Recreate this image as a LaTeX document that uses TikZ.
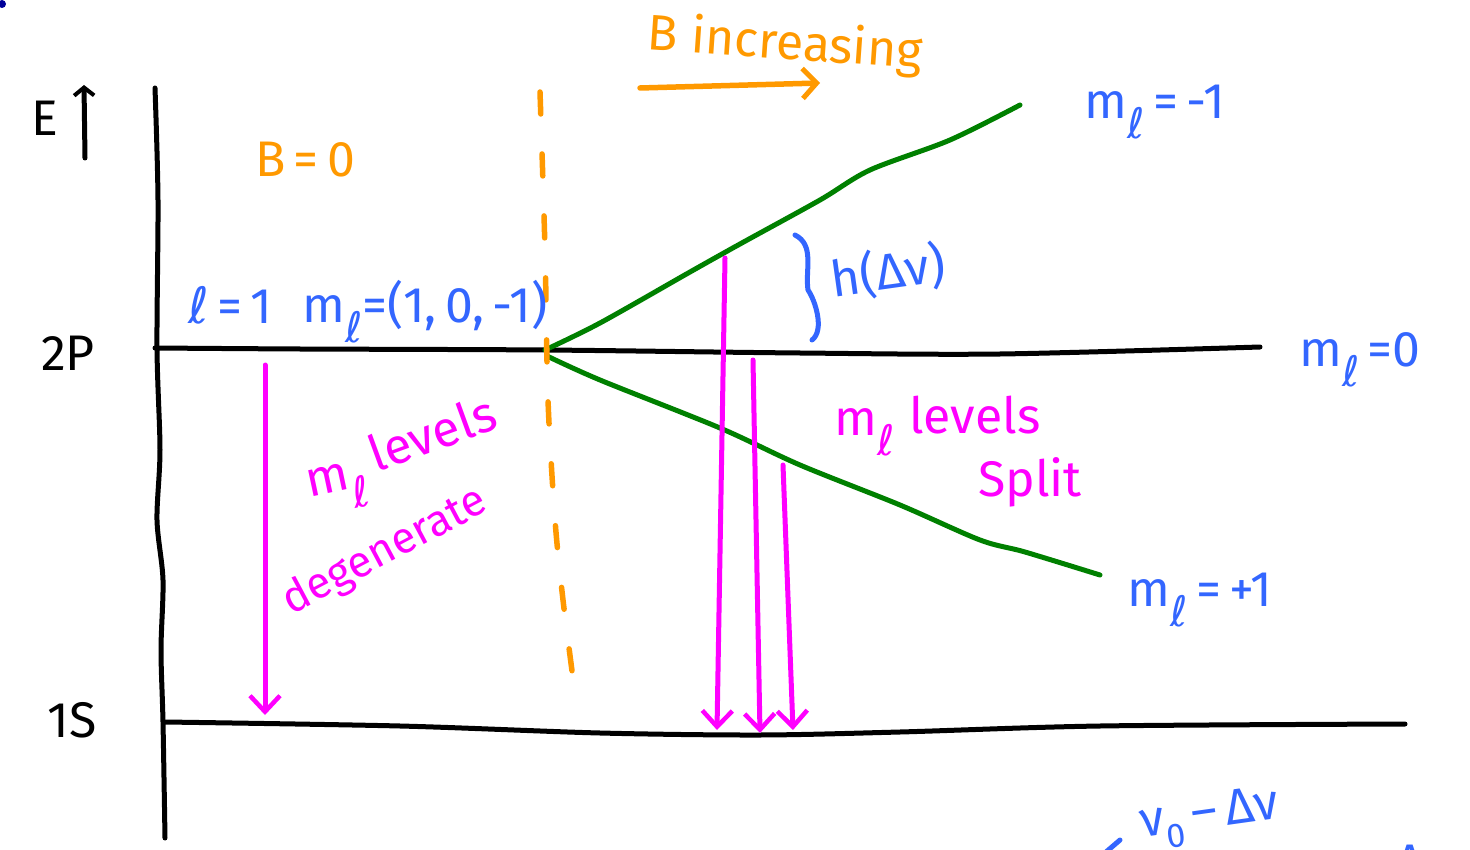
\documentclass[tikz,border=0pt]{standalone}
\usepackage{fontspec}
\setmainfont{Fira Sans}
\newfontfamily\ellfont{DejaVu Sans}
\usetikzlibrary{arrows.meta}
\definecolor{inkblue}{RGB}{51,102,255}
\definecolor{inkorange}{RGB}{255,153,0}
\definecolor{inkgreen}{RGB}{0,128,0}
\definecolor{inkmag}{RGB}{255,0,255}
\newcommand\myell{{\ellfont ℓ}}
\newcommand\msub{m\raisebox{-0.4em}{\fontsize{42}{42}\selectfont\ellfont ℓ}}
\newcommand\nuzero{ν\raisebox{-0.3em}{\fontsize{34}{34}\selectfont 0}}
\tikzset{
  ink/.style={line width=5pt,line cap=round,line join=round},
  blk/.style={ink,black},
  grn/.style={ink,inkgreen},
  mag/.style={ink,inkmag,-{Straight Barb[length=16pt,width=30pt,line width=4.5pt]}},
  org/.style={line width=5.5pt,line cap=round,inkorange},
  lbl/.style={font=\fontsize{50}{56}\selectfont,inner sep=0pt},
  bl/.style={lbl,text=inkblue},
  ol/.style={lbl,text=inkorange},
  ml/.style={lbl,text=inkmag},
  kl/.style={lbl,text=black},
}
\begin{document}
\begin{tikzpicture}[x=1pt,y=-1pt]
\useasboundingbox (0,0) rectangle (1470,850);
\clip (0,0) rectangle (1470,850);
% corner dot
\fill[blue!60!black] (2,4) circle (4);
% axis
\coordinate (axT) at (155,88);
\coordinate (axB) at (165,838);
\draw[blk] plot[smooth] coordinates {(axT) (158,200) (157,348) (160,450) (157,520) (163,580) (161,650) (163,722) (axB)};
% E arrow
\node[kl] (E) at (45,118) {E};
\coordinate (eB) at (85,158);
\coordinate (eT) at (84,85);
\draw[blk,-{Straight Barb[length=8pt,width=20pt,line width=4pt]}] (eB) -- (eT);
\node[kl] (l2p) at (68,353) {2P};
\node[kl] (l1s) at (72,720) {1S};
% 2P line
\coordinate (p0) at (155,348);
\coordinate (p1) at (1260,347);
\draw[blk] plot[smooth] coordinates {(p0) (300,349) (545,350) (800,353) (1000,354) (p1)};
% 1S line
\coordinate (s0) at (165,722);
\coordinate (s1) at (1405,724);
\draw[blk] plot[smooth] coordinates {(s0) (400,726) (600,733) (760,735) (900,732) (1100,726) (s1)};
% green split lines
\coordinate (g0) at (545,350);
\coordinate (gu) at (1020,105);
\coordinate (gl) at (1100,575);
\draw[grn] plot[smooth] coordinates {(g0) (600,323) (690,272) (740,244) (820,200) (870,170) (950,140) (gu)};
\draw[grn] plot[smooth] coordinates {(547,356) (600,380) (720,428) (800,465) (900,505) (980,540) (1025,552) (gl)};
% orange dashed line
\coordinate (o0) at (540,92);
\coordinate (o1) at (574,686);
\draw[org,dash pattern=on 22pt off 40pt] plot[smooth] coordinates {(o0) (545,250) (548,400) (555,520) (563,600) (o1)};
\node[ol] (b0) at (305,160) {B\,=\,0};
\node[ol,rotate=-4] (binc) at (785,45) {B increasing};
\coordinate (ba0) at (640,88);
\coordinate (ba1) at (820,83);
\draw[org,-{Straight Barb[length=14pt,width=30pt,line width=5pt]}] (ba0) -- (ba1);
% blue labels
\node[bl] (l1) at (230,305) {\myell\,=\,1};
\node[bl] (mlset) at (425,312) {\msub=(1,\,0,\,-1)};
\node[bl] (mlm1) at (1155,112) {\msub\,=\,-1};
\node[bl] (ml0) at (1360,360) {\msub\,=0};
\node[bl] (mlp1) at (1200,600) {\msub\,=\,+1};
% brace
\coordinate (br0) at (795,235);
\coordinate (br1) at (812,340);
\draw[ink,inkblue] (br0) .. controls (815,245) and (805,270) .. (808,290) .. controls (815,300) and (825,330) .. (br1);
\node[bl,rotate=8] (dnu) at (888,272) {h(Δν)};
% magenta arrows
\coordinate (a0s) at (265,365);
\coordinate (a0e) at (265,715);
\draw[mag] (a0s) -- (a0e);
\coordinate (a1s) at (725,258);
\coordinate (a1e) at (717,730);
\coordinate (a2s) at (753,360);
\coordinate (a2e) at (760,733);
\coordinate (a3s) at (783,465);
\coordinate (a3e) at (793,730);
\draw[mag] (a1s) -- (a1e);
\draw[mag] (a2s) -- (a2e);
\draw[mag] (a3s) -- (a3e);
% magenta texts
\node[ml,rotate=12] (me) at (338,488) {\msub};
\node[ml,rotate=20] (lev1) at (432,433) {levels};
\node[ml,rotate=28,font=\fontsize{44}{50}\selectfont] (deg) at (385,552) {degenerate};
\node[ml] (me2) at (865,432) {\msub};
\node[ml] (lev2) at (975,415) {levels};
\node[ml] (split) at (1030,482) {Split};
% bottom right partial labels
\node[bl,rotate=8] (nu1) at (1210,818) {\nuzero\,–\,Δν};
\node[bl] (nu2) at (1380,870) {\nuzero\,+\,Δν};
\coordinate (lt0) at (1106,852);
\coordinate (lt1) at (1120,840);
\draw[ink,inkblue] (lt0) -- (lt1);
\end{tikzpicture}
\end{document}
